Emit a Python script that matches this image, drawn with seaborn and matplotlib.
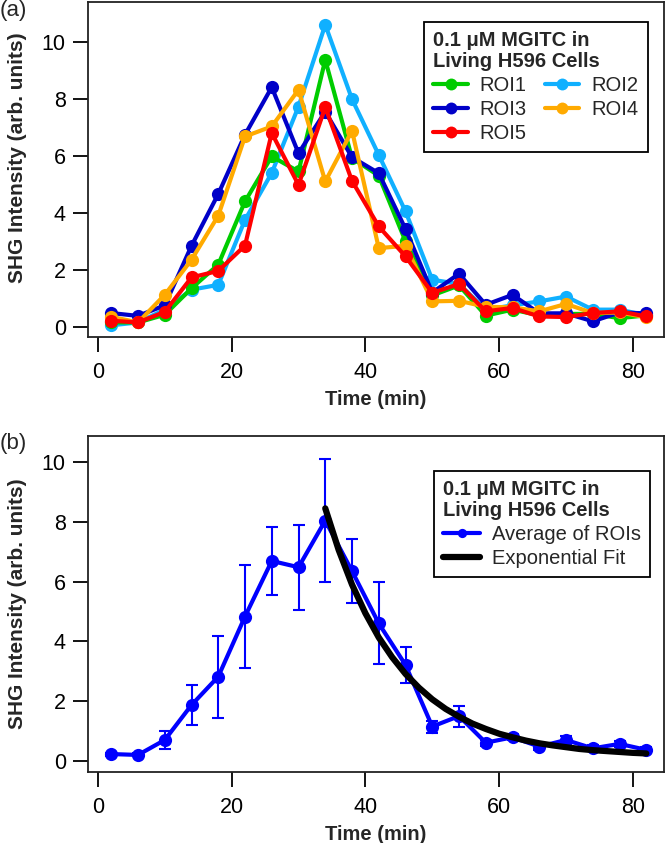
import matplotlib
matplotlib.use('Agg')
import matplotlib.pyplot as plt
import seaborn as sns

# Style
sns.set_style('ticks')
plt.rcParams['font.family'] = ['Liberation Sans', 'DejaVu Sans']

# Time points (min)
time = [2, 6, 10, 14, 18, 22, 26, 30, 34, 38, 42, 46, 50, 54, 58, 62, 66, 70, 74, 78, 82]

# SHG intensity per ROI (arb. units)
roi1 = [0.15, 0.15, 0.42, 1.35, 2.18, 4.4, 5.98, 5.45, 9.37, 5.92, 5.3, 3.0, 1.1, 1.45, 0.39, 0.6, 0.4, 0.45, 0.45, 0.3, 0.4]
roi2 = [0.05, 0.15, 0.6, 1.3, 1.47, 3.75, 5.4, 7.73, 10.6, 7.99, 6.03, 4.05, 1.65, 1.5, 0.6, 0.75, 0.89, 1.06, 0.6, 0.6, 0.4]
roi3 = [0.48, 0.38, 0.75, 2.84, 4.66, 6.74, 8.41, 6.09, 7.55, 5.95, 5.39, 3.43, 1.2, 1.86, 0.77, 1.12, 0.47, 0.47, 0.19, 0.5, 0.47]
roi4 = [0.35, 0.15, 1.12, 2.35, 3.9, 6.68, 7.03, 8.32, 5.1, 6.88, 2.76, 2.84, 0.89, 0.91, 0.7, 0.68, 0.54, 0.8, 0.48, 0.5, 0.33]
roi5 = [0.21, 0.15, 0.52, 1.73, 1.96, 2.85, 6.8, 4.98, 7.71, 5.12, 3.52, 2.47, 1.19, 1.5, 0.54, 0.66, 0.36, 0.34, 0.48, 0.54, 0.36]

# Average of ROIs with error bars
avg = [0.23, 0.2, 0.7, 1.87, 2.82, 4.83, 6.69, 6.48, 8.04, 6.35, 4.6, 3.21, 1.15, 1.5, 0.61, 0.79, 0.48, 0.7, 0.42, 0.57, 0.37]
avg_err = [0.05, 0.05, 0.29, 0.66, 1.37, 1.73, 1.15, 1.42, 2.05, 1.07, 1.37, 0.6, 0.2, 0.35, 0.1, 0.1, 0.1, 0.15, 0.1, 0.1, 0.1]

# Exponential fit curve
fit_time = [34, 36, 38, 40, 42, 44, 46, 48, 50, 52, 54, 56, 58, 60, 62, 64, 66, 68, 70, 72, 74, 76, 78, 80, 82]
fit_val = [8.45, 7.06, 5.90, 4.94, 4.13, 3.47, 2.91, 2.45, 2.06, 1.74, 1.48, 1.25, 1.07, 0.91, 0.79, 0.68,
           0.59, 0.52, 0.46, 0.40, 0.36, 0.33, 0.30, 0.27, 0.25]

legend_title = '0.1 \u03bcM MGITC in\nLiving H596 Cells'

fig = plt.figure(figsize=(6.66, 8.43), dpi=100)
ax1 = fig.add_axes([0.1321, 0.6006, 0.8644, 0.397])
ax2 = fig.add_axes([0.1321, 0.0846, 0.8644, 0.3982])

# Panel (a): individual ROIs (drawn bottom to top)
series = [('ROI2', roi2, '#10b0ff'), ('ROI1', roi1, '#00cc00'), ('ROI3', roi3, '#0000c8'),
          ('ROI4', roi4, '#ffaa00'), ('ROI5', roi5, '#ff0000')]
for name, vals, col in series:
    sns.lineplot(x=time, y=vals, ax=ax1, color=col, linewidth=3, marker='o', markersize=9.5,
                 markeredgewidth=0, markeredgecolor=col, label=name, errorbar=None)

handles, labels = ax1.get_legend_handles_labels()
hmap = dict(zip(labels, handles))
order = ['ROI1', 'ROI3', 'ROI5', 'ROI2', 'ROI4']
leg1 = ax1.legend([hmap[k] for k in order], order, ncol=2, title=legend_title,
                  loc='upper right', bbox_to_anchor=(0.972, 0.941), borderaxespad=0,
                  fontsize=14.5, title_fontproperties={'weight': 'bold', 'size': 14.5},
                  alignment='left', frameon=True, fancybox=False, framealpha=1,
                  edgecolor='black', handlelength=1.7, handletextpad=0.6,
                  columnspacing=0.9, labelspacing=0.25, borderpad=0.45, markerscale=0.9)
leg1.get_frame().set_linewidth(1.3)
leg1.get_title().set_linespacing(1.15)

# Panel (b): average with error bars and exponential fit
ax2.errorbar(time, avg, yerr=avg_err, fmt='none', ecolor='#0000ff', elinewidth=1.5,
             capsize=4.5, capthick=1.5)
sns.lineplot(x=time, y=avg, ax=ax2, color='#0000ff', linewidth=3, marker='o', markersize=9.5,
             markeredgewidth=0, markeredgecolor='#0000ff', label='Average of ROIs', errorbar=None)
sns.lineplot(x=fit_time, y=fit_val, ax=ax2, color='black', linewidth=4.5,
             label='Exponential Fit', errorbar=None)

leg2 = ax2.legend(title=legend_title, loc='upper right', bbox_to_anchor=(0.976, 0.896),
                  borderaxespad=0, fontsize=14.5,
                  title_fontproperties={'weight': 'bold', 'size': 14.5},
                  alignment='left', frameon=True, fancybox=False, framealpha=1,
                  edgecolor='black', handlelength=1.8, handletextpad=0.6,
                  labelspacing=0.25, borderpad=0.45, markerscale=0.7)
leg2.get_frame().set_linewidth(1.3)
leg2.get_title().set_linespacing(1.15)

for ax, ylim in [(ax1, (-0.35, 11.4)), (ax2, (-0.36, 10.87))]:
    ax.set_xlim(-1.48, 84.6)
    ax.set_ylim(*ylim)
    ax.set_xticks([0, 20, 40, 60, 80])
    ax.set_yticks([0, 2, 4, 6, 8, 10])
    ax.tick_params(axis='both', direction='out', length=11, width=1.3, labelsize=15.5,
                   colors='black')
    ax.tick_params(axis='x', pad=7)
    ax.tick_params(axis='y', pad=5)
    for sp in ax.spines.values():
        sp.set_visible(True)
        sp.set_linewidth(1.3)
        sp.set_color('#222222')
    ax.set_xlabel('Time (min)', fontsize=14.5, fontweight='bold', labelpad=5)
    ax.set_ylabel('SHG Intensity (arb. units)', fontsize=15, fontweight='bold')

ax1.yaxis.set_label_coords(-0.106, 0.535)
ax2.yaxis.set_label_coords(-0.106, 0.5)

fig.text(0.0, 1.0, '(a)', fontsize=16, ha='left', va='top')
fig.text(0.0, 0.486, '(b)', fontsize=16, ha='left', va='top')

fig.savefig('out.png', dpi=100)
